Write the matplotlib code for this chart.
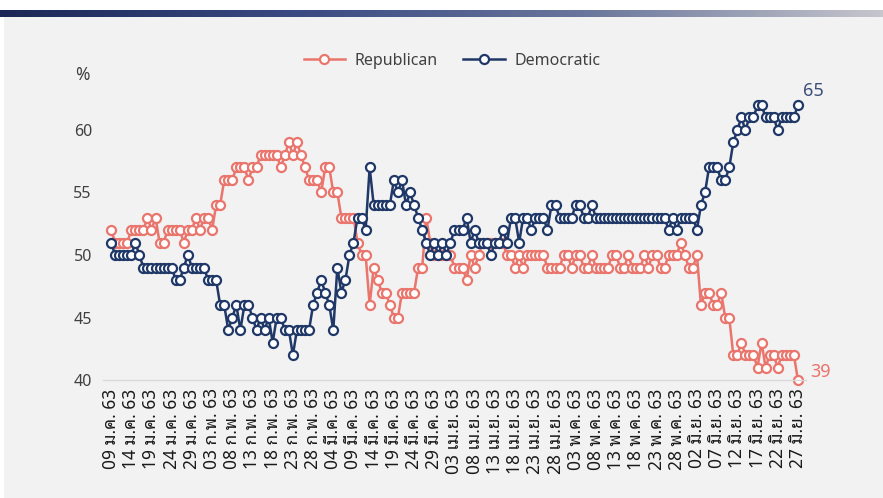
import matplotlib
matplotlib.use("Agg")
import matplotlib.pyplot as plt
import numpy as np
from matplotlib import font_manager
from matplotlib.colors import LinearSegmentedColormap
from matplotlib.patches import Rectangle

# Daily support (%) from 09 Jan 2020 to 27 Jun 2020
republican = [
    52, 51, 51, 51, 51, 52, 52, 52, 52, 53, 52, 53, 51, 51, 52, 52, 52, 52, 51, 52,
    52, 53, 52, 53, 53, 52, 54, 54, 56, 56, 56, 57, 57, 57, 56, 57, 57, 58, 58, 58,
    58, 58, 57, 58, 59, 58, 59, 58, 57, 56, 56, 56, 55, 57, 57, 55, 55, 53, 53, 53,
    53, 51, 50, 50, 46, 49, 48, 47, 47, 46, 45, 45, 47, 47, 47, 47, 49, 49, 53, 51,
    50, 50, 50, 50, 50, 49, 49, 49, 48, 50, 49, 50, 51, 51, 51, 51, 51, 51, 50, 50,
    49, 50, 49, 50, 50, 50, 50, 50, 49, 49, 49, 49, 50, 50, 49, 50, 50, 49, 49, 50,
    49, 49, 49, 49, 50, 50, 49, 49, 50, 49, 49, 49, 50, 49, 50, 50, 49, 49, 50, 50,
    50, 51, 50, 49, 49, 50, 46, 47, 47, 46, 46, 47, 45, 45, 42, 42, 43, 42, 42, 42,
    41, 43, 41, 42, 42, 41, 42, 42, 42, 42, 40,
]
democratic = [
    51, 50, 50, 50, 50, 50, 51, 50, 49, 49, 49, 49, 49, 49, 49, 49, 48, 48, 49, 50,
    49, 49, 49, 49, 48, 48, 48, 46, 46, 44, 45, 46, 44, 46, 46, 45, 44, 45, 44, 45,
    43, 45, 45, 44, 44, 42, 44, 44, 44, 44, 46, 47, 48, 47, 46, 44, 49, 47, 48, 50,
    51, 53, 53, 52, 57, 54, 54, 54, 54, 54, 56, 55, 56, 54, 55, 54, 53, 52, 51, 50,
    51, 50, 51, 50, 51, 52, 52, 52, 53, 51, 52, 51, 51, 51, 50, 51, 51, 52, 51, 53,
    53, 51, 53, 53, 52, 53, 53, 53, 52, 54, 54, 53, 53, 53, 53, 54, 54, 53, 53, 54,
    53, 53, 53, 53, 53, 53, 53, 53, 53, 53, 53, 53, 53, 53, 53, 53, 53, 53, 52, 53,
    52, 53, 53, 53, 53, 52, 54, 55, 57, 57, 57, 56, 56, 57, 59, 60, 61, 60, 61, 61,
    62, 62, 61, 61, 61, 60, 61, 61, 61, 61, 62,
]
tick_labels = [
    "09 ม.ค. 63", "14 ม.ค. 63", "19 ม.ค. 63", "24 ม.ค. 63", "29 ม.ค. 63",
    "03 ก.พ. 63", "08 ก.พ. 63", "13 ก.พ. 63", "18 ก.พ. 63", "23 ก.พ. 63", "28 ก.พ. 63",
    "04 มี.ค. 63", "09 มี.ค. 63", "14 มี.ค. 63", "19 มี.ค. 63", "24 มี.ค. 63", "29 มี.ค. 63",
    "03 เม.ย. 63", "08 เม.ย. 63", "13 เม.ย. 63", "18 เม.ย. 63", "23 เม.ย. 63", "28 เม.ย. 63",
    "03 พ.ค. 63", "08 พ.ค. 63", "13 พ.ค. 63", "18 พ.ค. 63", "23 พ.ค. 63", "28 พ.ค. 63",
    "02 มิ.ย. 63", "07 มิ.ย. 63", "12 มิ.ย. 63", "17 มิ.ย. 63", "22 มิ.ย. 63", "27 มิ.ย. 63",
]
end_labels = ["39", "65"]

# pick a font that has Thai glyphs
installed = {f.name for f in font_manager.fontManager.ttflist}
thai_font = next((n for n in ["Noto Sans Thai Looped", "Sarabun", "Noto Sans Thai",
                              "Niramit", "Trirong"] if n in installed), "DejaVu Sans")
plt.rcParams["font.family"] = [thai_font, "DejaVu Sans"]

red = "#e9756c"
navy = "#1f3868"

fig = plt.figure(figsize=(8.83, 4.98), dpi=100, facecolor="white")

# grey panel and gradient header bar
fig.add_artist(Rectangle((4 / 883, 0), 1, 1 - 17 / 498, transform=fig.transFigure,
                         facecolor="#f2f2f2", edgecolor="none", zorder=-10))
bar = fig.add_axes([0, 1 - 17 / 498, 1, 7 / 498])
cmap = LinearSegmentedColormap.from_list("hdr", ["#1c2757", "#3a4a82", "#6a769c", "#c6c6cc"])
bar.imshow(np.linspace(0, 1, 256)[None, :], aspect="auto", cmap=cmap)
bar.axis("off")

ax = fig.add_axes([103 / 883, 118 / 498, 703 / 883, 312.5 / 498])
ax.set_facecolor("none")
ax.set_zorder(2)

x = np.arange(len(republican))
ax.plot(x, republican, color=red, lw=1.8, marker="o", ms=6.5, mfc="white",
        mec=red, mew=1.6, label="Republican", clip_on=False)
ax.plot(x, democratic, color=navy, lw=1.8, marker="o", ms=6.5, mfc="white",
        mec=navy, mew=1.6, label="Democratic", clip_on=False)

ax.set_xlim(-2, 172)
ax.set_ylim(40, 65)
ax.set_yticks([40, 45, 50, 55, 60])
ax.set_xticks(x[::5])
ax.set_xticklabels(tick_labels, rotation=90, fontsize=12.5, fontweight="bold",
                   color="#1a1a1a")
ax.tick_params(axis="x", length=0, pad=6)
ax.tick_params(axis="y", length=0, pad=8, labelsize=11.5, labelcolor="#404040")

for side in ["top", "right", "left"]:
    ax.spines[side].set_visible(False)
ax.spines["bottom"].set_color("#d9d9d9")
ax.spines["bottom"].set_linewidth(1)

ax.annotate("%", xy=(-0.03, 64.4), xycoords=("axes fraction", "data"),
            ha="center", va="center", fontsize=12.5, color="#404040")

ax.annotate(end_labels[0], xy=(x[-1], republican[-1]), xytext=(9, 6),
            textcoords="offset points", ha="left", va="center", fontsize=13, color=red)
ax.annotate(end_labels[1], xy=(x[-1], democratic[-1]), xytext=(4, 10),
            textcoords="offset points", ha="left", va="center", fontsize=13, color="#3a4f7a")

fig.legend(loc="center", bbox_to_anchor=(0.512, 1 - 61 / 498), ncol=2, frameon=False,
           fontsize=11.5, labelcolor="#404040", handlelength=2.6, columnspacing=1.6,
           handletextpad=0.6)

plt.savefig("out.png", dpi=100, facecolor=fig.get_facecolor())
